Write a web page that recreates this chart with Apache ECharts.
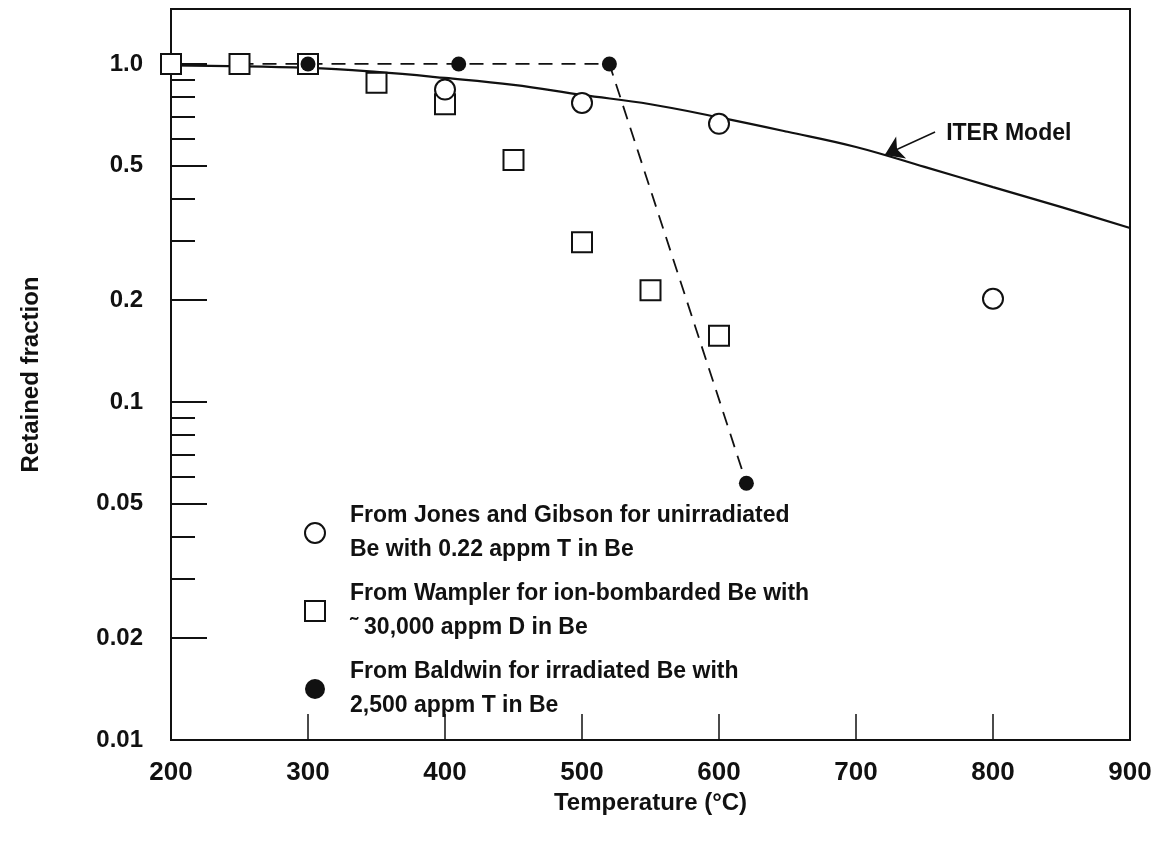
<!DOCTYPE html>
<html>
<head>
<meta charset="utf-8">
<script src="https://cdn.jsdelivr.net/npm/echarts@6/dist/echarts.min.js"></script>
<style>
html,body{margin:0;padding:0;background:#fff;}
#chart{width:1160px;height:844px;}
</style>
</head>
<body>
<div id="chart"></div>
<script>
// ---- data ----
var iterT = [200, 300, 350, 400, 450, 500, 550, 600, 650, 700, 750, 800, 850, 900];
var iterF = [0.99, 0.973, 0.947, 0.909, 0.867, 0.810, 0.760, 0.695, 0.630, 0.568, 0.496, 0.432, 0.377, 0.327];

var jonesT = [400, 500, 600, 800];
var jonesF = [0.84, 0.767, 0.665, 0.202];

var wamplerT = [200, 250, 300, 350, 400, 450, 500, 550, 600];
var wamplerF = [1.0, 1.0, 1.0, 0.88, 0.76, 0.52, 0.297, 0.214, 0.157];

var baldwinT = [300, 410, 520, 620];
var baldwinF = [1.0, 1.0, 1.0, 0.0575];

var trendT = [250, 300, 410, 520, 620];
var trendF = [1.0, 1.0, 1.0, 1.0, 0.0575];

var yMajorTicks = [0.01, 0.02, 0.05, 0.1, 0.2, 0.5, 1.0];
var yMinorTicks = [0.03, 0.04, 0.06, 0.07, 0.08, 0.09, 0.3, 0.4, 0.6, 0.7, 0.8, 0.9];
var xTicks = [300, 400, 500, 600, 700, 800];

var seriesNames = ['Jones', 'Wampler', 'Baldwin'];
var legendText = [
  'From Jones and Gibson for unirradiated\nBe with 0.22 appm T in Be',
  'From Wampler for ion-bombarded Be with\n\u02DC 30,000 appm D in Be',
  'From Baldwin for irradiated Be with\n2,500 appm T in Be'
];
var arrowFrom = [757.7, 0.629];
var arrowTo = [721, 0.538];

function pairs(xs, ys) { return xs.map(function (x, i) { return [x, ys[i]]; }); }

var FONT = '"Liberation Sans", Arial, Helvetica, sans-serif';
var INK = '#111';

var chart = echarts.init(document.getElementById('chart'), null, {renderer: 'canvas'});
var yBase = {
  type: 'log', logBase: 10, min: 0.01, max: 1.454,
  splitLine: {show: false}
};
chart.setOption({
  animation: false,
  backgroundColor: '#fff',
  textStyle: {fontFamily: FONT},
  grid: {left: 171, right: 30, top: 9, bottom: 104, show: true, borderColor: '#111', borderWidth: 2, containLabel: false},
  legend: {
    data: seriesNames,
    orient: 'vertical',
    left: 299, top: 494,
    itemWidth: 20, itemHeight: 20, itemGap: 10,
    selectedMode: false,
    formatter: function (n) { return legendText[seriesNames.indexOf(n)]; },
    textStyle: {fontFamily: FONT, fontSize: 23, fontWeight: 'bold', color: INK, lineHeight: 34, padding: [0, 0, 0, 20]}
  },
  xAxis: {
    type: 'value', min: 200, max: 900, interval: 100,
    axisLine: {lineStyle: {color: '#111', width: 2}},
    axisTick: {inside: true, length: 26, lineStyle: {color: '#111', width: 1.5}, customValues: xTicks},
    axisLabel: {fontFamily: FONT, fontSize: 26, fontWeight: 'bold', color: INK, margin: 20},
    splitLine: {show: false},
    name: 'Temperature (\u00B0C)', nameLocation: 'middle', nameGap: 47,
    nameTextStyle: {fontFamily: FONT, fontSize: 24, fontWeight: 'bold', color: INK}
  },
  yAxis: [
    Object.assign({}, yBase, {
      axisLine: {lineStyle: {color: '#111', width: 2}},
      axisTick: {inside: true, length: 36, lineStyle: {color: '#111', width: 2}, customValues: yMajorTicks},
      axisLabel: {fontFamily: FONT, fontSize: 24, fontWeight: 'bold', color: INK, margin: 28,
        customValues: yMajorTicks,
        formatter: function (v) { return Math.abs(v - 1) < 1e-9 ? '1.0' : String(+v.toPrecision(3)); }},
      name: 'Retained fraction', nameLocation: 'middle', nameGap: 128, nameRotate: 90,
      nameTextStyle: {fontFamily: FONT, fontSize: 24, fontWeight: 'bold', color: INK}
    }),
    Object.assign({}, yBase, {
      position: 'left',
      axisLine: {show: false},
      axisTick: {inside: true, length: 24, lineStyle: {color: '#111', width: 2}, customValues: yMinorTicks},
      axisLabel: {show: false}
    })
  ],
  series: [
    {
      name: 'ITER Model', type: 'line', data: pairs(iterT, iterF),
      showSymbol: false, smooth: 0.4, z: 2,
      lineStyle: {color: '#111', width: 2.2},
      markLine: {
        silent: true, symbol: ['none', 'arrow'], symbolSize: 18,
        lineStyle: {color: '#111', width: 1.5, type: 'solid'},
        label: {show: true, position: 'start', distance: 10, formatter: 'ITER Model',
          offset: [2, 6],
          fontFamily: FONT, fontSize: 23, fontWeight: 'bold', color: INK},
        data: [[{coord: arrowFrom}, {coord: arrowTo}]]
      }
    },
    {
      name: 'trend', type: 'line', data: pairs(trendT, trendF),
      showSymbol: false, z: 2,
      lineStyle: {color: '#111', width: 1.8, type: [14, 9]}
    },
    {
      name: 'Jones', type: 'scatter', data: pairs(jonesT, jonesF),
      symbol: 'emptyCircle', symbolSize: 20, z: 4,
      itemStyle: {color: '#111', borderColor: '#111', borderWidth: 2.2, opacity: 1}
    },
    {
      name: 'Wampler', type: 'scatter', data: pairs(wamplerT, wamplerF),
      symbol: 'emptyRect', symbolSize: 20, z: 3,
      itemStyle: {color: '#111', borderColor: '#111', borderWidth: 2.2, opacity: 1}
    },
    {
      name: 'Baldwin', type: 'scatter', data: pairs(baldwinT, baldwinF),
      symbol: 'circle', symbolSize: 15, z: 5,
      itemStyle: {color: '#111', opacity: 1}
    }
  ]
});
</script>
</body>
</html>
